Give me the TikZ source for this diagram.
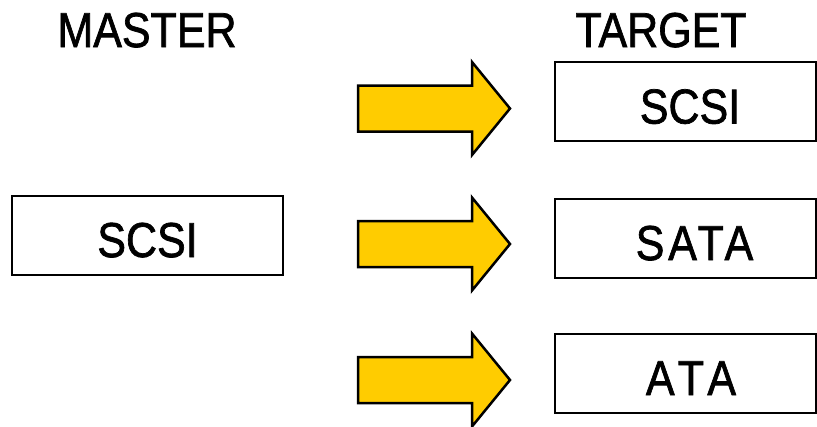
\documentclass[tikz,border=0pt]{standalone}
\usepackage{fontspec}
\setmainfont{Liberation Sans}
\definecolor{arrowfill}{HTML}{FFCC00}
\newcommand{\tall}[1]{\scalebox{1}[1.14]{#1}}
\begin{document}
\begin{tikzpicture}[x=1pt,y=-1pt,
  box/.style={draw=black,line width=1.6pt},
  lbl/.style={anchor=base,inner sep=0pt,font=\fontsize{43}{50}\selectfont\addfontfeature{FakeBold=1.5}},
  bigarrow/.style={draw=black,line width=2.5pt,fill=arrowfill,line join=miter}]
\useasboundingbox (0,0) rectangle (817,426);
% headings
\node[lbl] (master) at (147,47) {\tall{MASTER}};
\node[lbl] (target) at (661,47) {\tall{TARGET}};
% master box
\draw[box] (12,196) rectangle (283,275);
\node[lbl] (msrc) at (147.5,257) {\tall{SCSI}};
% target boxes
\draw[box] (555,62) rectangle (816,141);
\node[lbl] (t1) at (690,123.5) {\tall{SCSI}};
\draw[box] (555,199) rectangle (816,278);
\node[lbl] (t2) at (694.5,260) {\tall{\addfontfeature{LetterSpace=9}SATA}};
\draw[box] (555,334) rectangle (816,413);
\node[lbl] (t3) at (691,395) {\tall{\addfontfeature{LetterSpace=15}ATA}};
% arrows
\foreach \c in {108.5,244,380}{
  \draw[bigarrow] (358,\c-23) -- (472,\c-23) -- (472,\c-46.5) -- (510,\c)
    -- (472,\c+46.5) -- (472,\c+23) -- (358,\c+23) -- cycle;
}
\end{tikzpicture}
\end{document}
